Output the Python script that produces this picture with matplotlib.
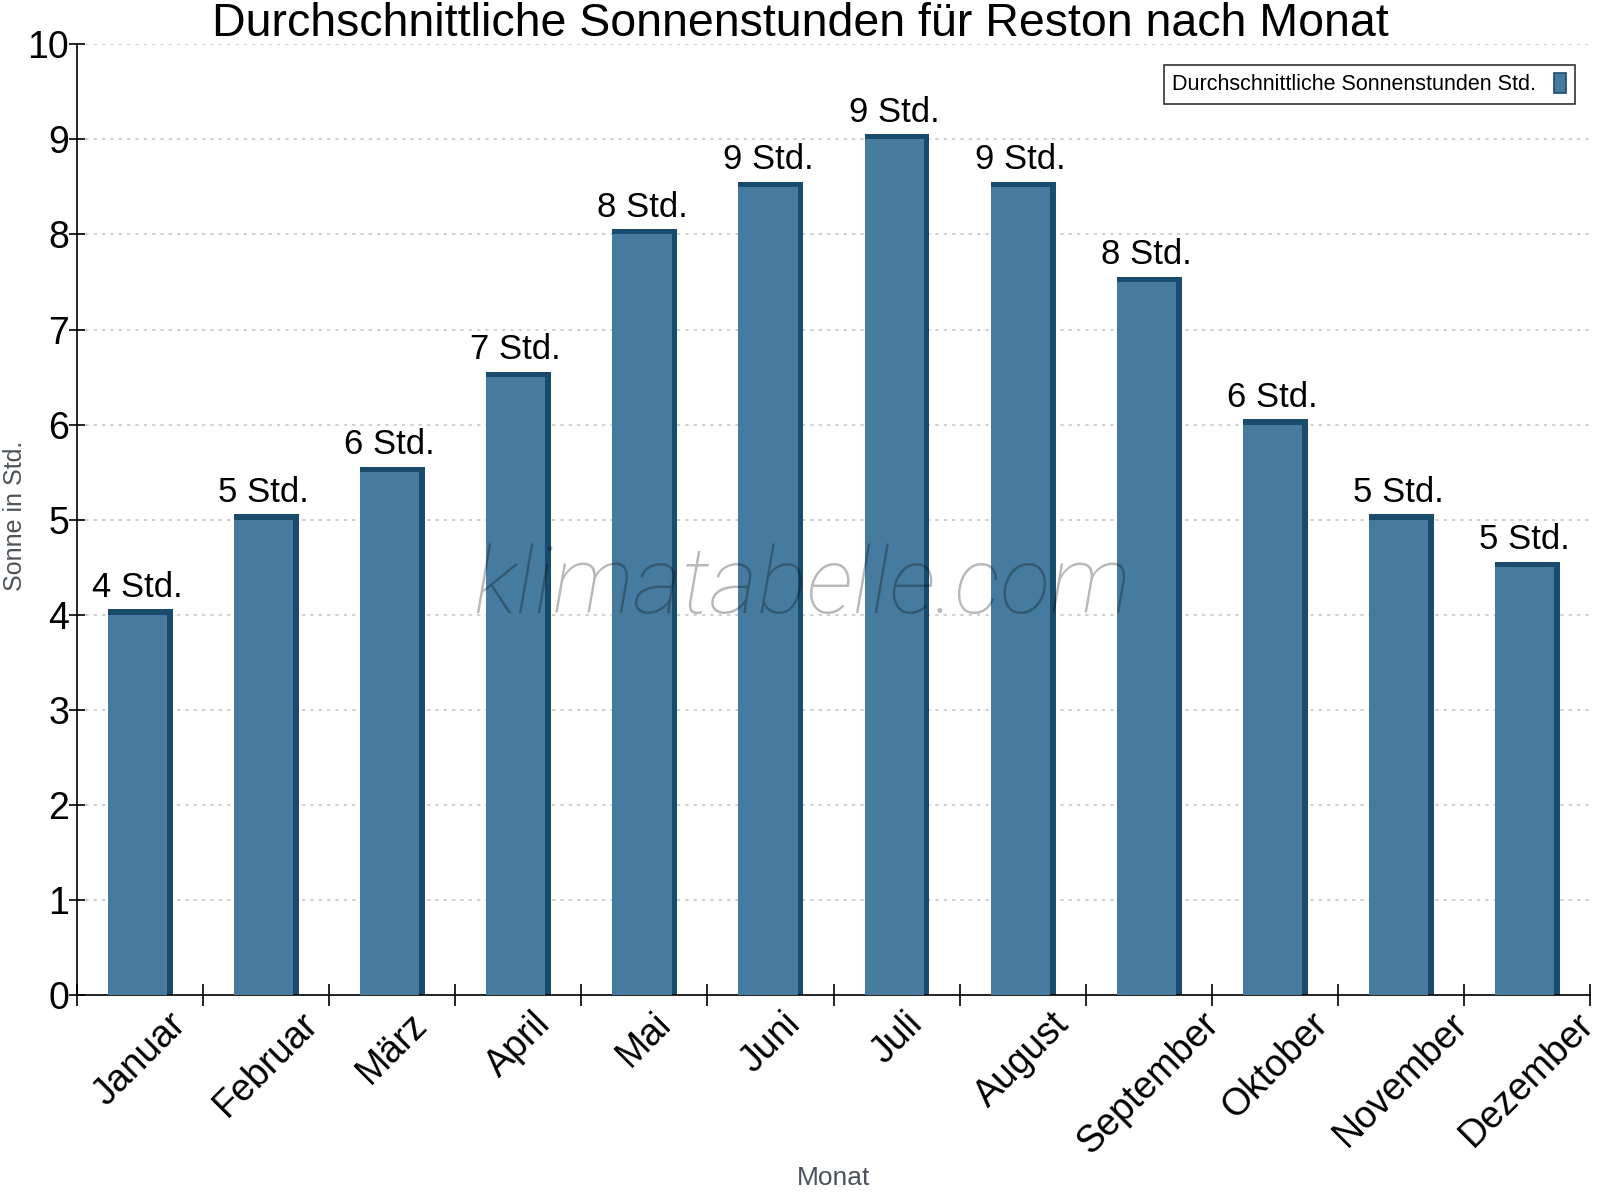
import numpy as np
import matplotlib
matplotlib.use("Agg")
import matplotlib.pyplot as plt
from matplotlib.patches import Patch

plt.rcParams["font.family"] = ["Liberation Sans", "DejaVu Sans"]

# Daten
monate = ["Januar", "Februar", "März", "April", "Mai", "Juni",
          "Juli", "August", "September", "Oktober", "November", "Dezember"]
sonnenstunden = [4, 5, 5.5, 6.5, 8, 8.5, 9, 8.5, 7.5, 6, 5, 4.5]

FRONT = "#467b9f"
DARK = "#194b6d"

fig = plt.figure(figsize=(16, 12), dpi=100)
ax = fig.add_axes([0.048, 0.171, 0.946, 0.792])

x = np.arange(len(monate))
w = 0.47
shift = -0.02
side = 0.045
# dunkle Seite + Deckel, dann Vorderseite
ax.bar(x + shift - w / 2, np.array(sonnenstunden) + 0.055, width=w + side,
       align="edge", color=DARK, zorder=2)
ax.bar(x + shift, sonnenstunden, width=w, color=FRONT, zorder=3)

for xi, v in zip(x, sonnenstunden):
    ax.annotate(f"{int(v + 0.5)} Std.", (xi + shift, v + 0.055),
                xytext=(0, 4), textcoords="offset points",
                ha="center", va="bottom", fontsize=25, color="black", zorder=5)

ax.set_xlim(-0.5, len(monate) - 0.5)
ax.set_ylim(0, 10)
ax.set_yticks(range(0, 11))
ax.tick_params(axis="y", labelsize=27, direction="inout", length=11, width=1.2, pad=0)

ax.set_xticks(np.arange(-0.5, len(monate), 1.0))
ax.set_xticklabels([])
ax.tick_params(axis="x", which="major", direction="inout", length=16, width=1.2)
ax.set_xticks(x, minor=True)
ax.set_xticklabels(monate, minor=True, rotation=45, ha="center", va="top",
                   fontsize=27)
ax.tick_params(axis="x", which="minor", length=0, pad=8)

ax.grid(axis="y", color="#c8c8c8", linestyle=(0, (2, 3)), linewidth=1.2, zorder=0)
ax.set_axisbelow(True)
for s in ("top", "right"):
    ax.spines[s].set_visible(False)
for s in ("left", "bottom"):
    ax.spines[s].set_linewidth(1.2)

fig.text(0.0095, 0.57, "Sonne in Std.", fontsize=18, color="#4d535b",
         rotation=90, ha="center", va="center")
fig.text(0.521, 0.008, "Monat", fontsize=19, color="#4d535b", ha="center", va="bottom")
fig.text(0.5, 0.998, "Durchschnittliche Sonnenstunden für Reston nach Monat",
         fontsize=33.5, ha="center", va="top")

ax.text(0.479, 0.428, "klimatabelle.com", transform=ax.transAxes,
        fontsize=67, family=["Roboto", "DejaVu Sans"], fontweight="light",
        style="italic", color="black", alpha=0.28, ha="center", va="center",
        zorder=6)

handle = Patch(facecolor=FRONT, edgecolor=DARK, linewidth=1.2)
leg = ax.legend([handle], ["Durchschnittliche Sonnenstunden Std."],
                loc="upper right", bbox_to_anchor=(0.997, 0.99),
                markerfirst=False, fontsize=15.5, frameon=True, fancybox=False,
                edgecolor="black", handlelength=0.6, handleheight=1.0,
                borderpad=0.4, handletextpad=0.8)
leg.get_frame().set_linewidth(1.2)

fig.savefig("out.png", dpi=100)
